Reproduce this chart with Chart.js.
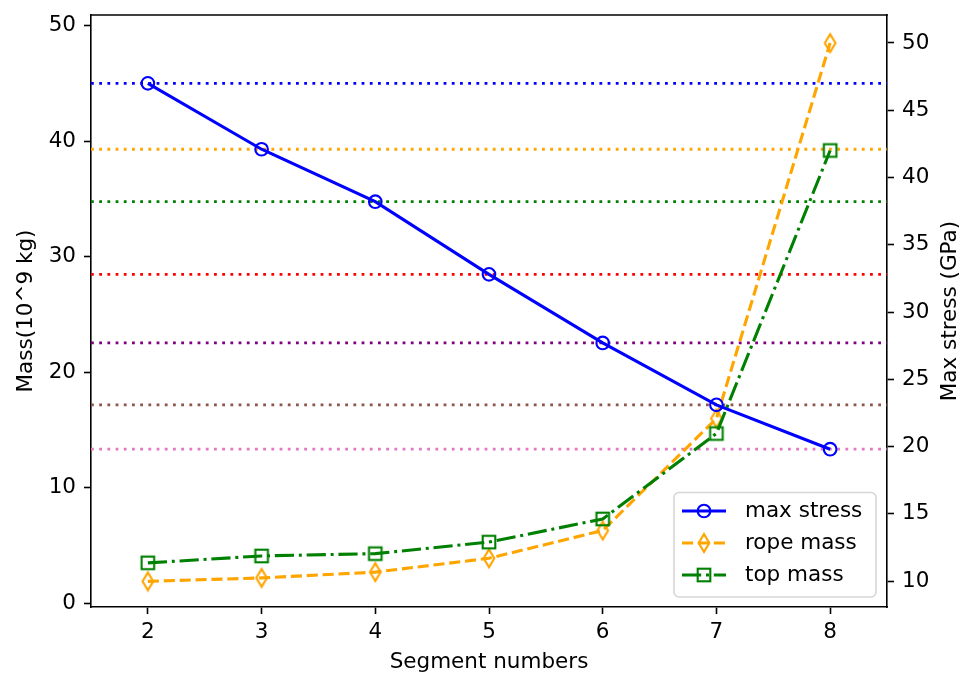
<!DOCTYPE html>
<html>
<head>
<meta charset="utf-8">
<title>Mass and max stress vs segment numbers</title>
<script src="https://cdn.jsdelivr.net/npm/chart.js@4.4.1/dist/chart.umd.min.js"></script>
<style>
  html, body { margin: 0; padding: 0; background: #fff; }
  #wrap { width: 968px; height: 677px; }
</style>
</head>
<body>
<div id="wrap"><canvas id="chart" width="968" height="677"></canvas></div>
<script>
// values
const segments = [2, 3, 4, 5, 6, 7, 8];
const maxStress = [47.0, 42.1, 38.2, 32.8, 27.7, 23.1, 19.8];   // GPa (right axis)
const ropeMass = [1.9, 2.2, 2.7, 3.9, 6.3, 16.0, 48.5];         // 10^9 kg
const topMass = [3.5, 4.1, 4.3, 5.3, 7.3, 14.7, 39.2];           // 10^9 kg
const refColors = ["#0000ff", "#ffa500", "#008000", "#ff0000", "#800080", "#8c564b", "#e377c2"];

const xTicks = [2, 3, 4, 5, 6, 7, 8];
const massTicks = [0, 10, 20, 30, 40, 50];
const stressTicks = [10, 15, 20, 25, 30, 35, 40, 45, 50];
const xRange = [1.5, 8.5];
const massRange = [-0.32, 50.93];
const stressRange = [8.07, 52.08];

const FONT = "'DejaVu Sans', sans-serif";
const FS = 21.5;
const LW = 3.1;

function markerCanvas(w, h, draw) {
  const c = document.createElement("canvas");
  c.width = w; c.height = h;
  draw(c.getContext("2d"), w / 2, h / 2);
  return c;
}
// thin diamond, open
const diamond = markerCanvas(16, 26, (g, cx, cy) => {
  g.strokeStyle = "#ffa500"; g.lineWidth = 2.1;
  g.beginPath();
  g.moveTo(cx, cy - 8.9); g.lineTo(cx + 5.35, cy);
  g.lineTo(cx, cy + 8.9); g.lineTo(cx - 5.35, cy);
  g.closePath(); g.stroke();
});
// open square
const square = markerCanvas(18, 18, (g, cx, cy) => {
  g.strokeStyle = "#008000"; g.lineWidth = 2.1;
  g.strokeRect(cx - 6.3, cy - 6.3, 12.6, 12.6);
});

const pts = ys => segments.map((x, i) => ({ x, y: ys[i] }));

const datasets = [
  {
    label: "max stress", data: pts(maxStress), yAxisID: "y2", order: 1,
    borderColor: "#0000ff", borderWidth: LW, borderDash: [],
    pointStyle: "circle", pointRadius: 6.3, pointBorderWidth: 2.1,
    pointBorderColor: "#0000ff", pointBackgroundColor: "rgba(0,0,0,0)"
  },
  {
    label: "top mass", data: pts(topMass), yAxisID: "y", order: 2,
    borderColor: "#008000", borderWidth: LW, borderDash: [19.2, 4.8, 3, 4.8],
    pointStyle: square, pointRadius: 7
  },
  {
    label: "rope mass", data: pts(ropeMass), yAxisID: "y", order: 3,
    borderColor: "#ffa500", borderWidth: LW, borderDash: [11.1, 4.8],
    pointStyle: diamond, pointRadius: 7
  }
];

// dotted reference lines at each stress level
maxStress.forEach((v, i) => {
  datasets.push({
    label: "ref" + i, isRef: true, yAxisID: "y2", order: 10 + i,
    data: [{ x: xRange[0], y: v }, { x: xRange[1], y: v }],
    borderColor: refColors[i], borderWidth: 2.8, borderDash: [2.8, 5.4],
    pointRadius: 0
  });
});

const legendOrder = ["max stress", "rope mass", "top mass"];

// top spine + right axis title (reads bottom to top)
const framePlugin = {
  id: "frame",
  afterDraw(chart) {
    const { ctx, chartArea: a } = chart;
    ctx.save();
    ctx.strokeStyle = "#000"; ctx.lineWidth = 1.6;
    ctx.beginPath();
    ctx.moveTo(a.left - 0.8, a.top); ctx.lineTo(a.right + 0.8, a.top);
    ctx.stroke();

    ctx.translate(950, (a.top + a.bottom) / 2);
    ctx.rotate(-Math.PI / 2);
    ctx.font = FS + "px " + FONT;
    ctx.fillStyle = "#000";
    ctx.textAlign = "center";
    ctx.textBaseline = "middle";
    ctx.fillText("Max stress (GPa)", 0, 0);
    ctx.restore();
  }
};

const legendPlugin = {
  id: "boxLegend",
  afterDraw(chart) {
    const ctx = chart.ctx;
    const x0 = 674, y0 = 492.5, w = 202, h = 104.5, r = 5;
    ctx.save();
    ctx.fillStyle = "rgba(255,255,255,0.8)";
    ctx.strokeStyle = "#d6d6d6"; ctx.lineWidth = 1.6;
    ctx.beginPath();
    ctx.roundRect(x0, y0, w, h, r);
    ctx.fill(); ctx.stroke();

    ctx.font = FS + "px " + FONT;
    ctx.textBaseline = "middle";
    ctx.textAlign = "left";
    legendOrder.forEach((name, i) => {
      const ds = chart.data.datasets.find(d => d.label === name);
      const cy = 511 + i * 32;
      ctx.strokeStyle = ds.borderColor; ctx.lineWidth = LW;
      ctx.setLineDash(ds.borderDash); ctx.lineCap = "butt";
      ctx.beginPath(); ctx.moveTo(682, cy); ctx.lineTo(726, cy); ctx.stroke();
      ctx.setLineDash([]);
      const mx = 704;
      if (ds.pointStyle === "circle") {
        ctx.lineWidth = 2.1;
        ctx.beginPath(); ctx.arc(mx, cy, 6.3, 0, Math.PI * 2); ctx.stroke();
      } else {
        const img = ds.pointStyle;
        ctx.drawImage(img, mx - img.width / 2, cy - img.height / 2);
      }
      ctx.fillStyle = "#000";
      ctx.fillText(name, 745, cy);
    });
    ctx.restore();
  }
};

const axisStyle = {
  grid: { display: true, drawOnChartArea: false, drawTicks: true, tickLength: 7, tickWidth: 1.6, tickColor: "#000" },
  border: { display: true, color: "#000", width: 1.6 }
};
const tickFont = { family: FONT, size: FS };

// fixed box sizes, and no extra room for edge labels
function fixBox(size) {
  return s => {
    if (s.isHorizontal()) s.height = size; else s.width = size;
    s.paddingTop = 0; s.paddingBottom = 0; s.paddingLeft = 0; s.paddingRight = 0;
  };
}

new Chart(document.getElementById("chart"), {
  type: "line",
  data: { datasets },
  options: {
    responsive: false,
    animation: false,
    events: [],
    devicePixelRatio: 1,
    layout: { padding: { top: 15, left: 0, right: 0, bottom: 0 } },
    plugins: { legend: { display: false }, tooltip: { enabled: false } },
    scales: {
      x: {
        type: "linear", min: xRange[0], max: xRange[1],
        afterBuildTicks: s => { s.ticks = xTicks.map(v => ({ value: v })); },
        afterFit: fixBox(70),
        ticks: { font: tickFont, color: "#000", padding: 6, autoSkip: false, maxRotation: 0, callback: v => String(v) },
        title: { display: true, text: "Segment numbers", color: "#000", font: tickFont, padding: { top: 0, bottom: 2 } },
        ...axisStyle
      },
      y: {
        type: "linear", position: "left", min: massRange[0], max: massRange[1],
        afterBuildTicks: s => { s.ticks = massTicks.map(v => ({ value: v })); },
        afterFit: fixBox(91),
        ticks: { font: tickFont, color: "#000", padding: 8, autoSkip: false, callback: v => String(v) },
        title: { display: true, text: "Mass(10^9 kg)", color: "#000", font: tickFont, padding: { top: 14, bottom: 0 } },
        ...axisStyle
      },
      y2: {
        type: "linear", position: "right", min: stressRange[0], max: stressRange[1],
        afterBuildTicks: s => { s.ticks = stressTicks.map(v => ({ value: v })); },
        afterFit: fixBox(81),
        ticks: { font: tickFont, color: "#000", padding: 8, autoSkip: false, callback: v => String(v) },
        title: { display: false },
        ...axisStyle
      }
    }
  },
  plugins: [framePlugin, legendPlugin]
});
</script>
</body>
</html>
